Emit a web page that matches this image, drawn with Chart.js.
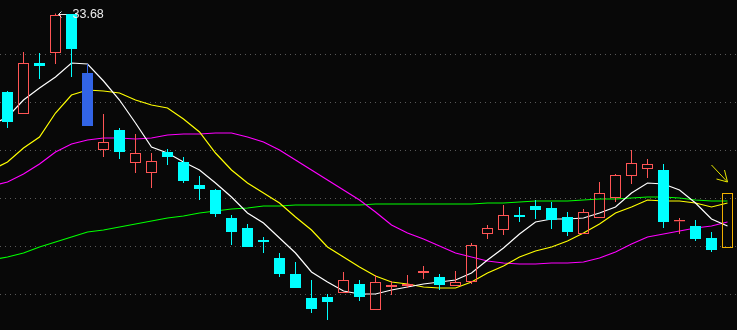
<!DOCTYPE html>
<html>
<head>
<meta charset="utf-8">
<script src="https://cdn.jsdelivr.net/npm/chart.js@4.4.0/dist/chart.umd.min.js"></script>
<style>
  html, body { margin: 0; padding: 0; background: #080808; overflow: hidden; }
  canvas { display: block; }
</style>
</head>
<body>
<canvas id="kChart" width="737" height="330"></canvas>
<script>
// daily candles (46 days, left to right)
const opens = [32.11, 31.67, 32.69, 32.89, 33.67, 32.49, 30.95, 31.35, 30.69, 30.49,
  30.91, 30.71, 30.25, 30.15, 29.59, 29.39, 29.15, 28.79, 28.47, 27.99,
  28.01, 28.09, 28.27, 27.75, 28.21, 28.23, 28.49, 28.41, 28.23, 28.31,
  29.27, 29.35, 29.65, 29.83, 29.79, 29.61, 29.27, 29.59, 29.99, 30.43,
  30.57, 30.55, 29.52, 29.43, 29.19, 28.99];
const highs = [32.13, 32.91, 32.89, 33.68, 33.67, 32.67, 31.67, 31.39, 31.27, 30.89,
  30.97, 30.81, 30.43, 30.17, 29.65, 29.47, 29.21, 28.89, 28.71, 28.35,
  28.07, 28.51, 28.35, 28.45, 28.33, 28.45, 28.63, 28.47, 28.53, 29.09,
  29.45, 29.85, 29.81, 29.95, 29.91, 29.71, 29.77, 30.31, 30.47, 30.95,
  30.77, 30.67, 29.59, 29.55, 29.31, 30.09];
const lows = [31.39, 31.67, 32.37, 32.67, 32.41, 31.43, 30.81, 30.77, 30.49, 30.19,
  30.65, 30.29, 29.95, 29.61, 29.05, 29.01, 28.89, 28.41, 28.19, 27.69,
  27.55, 28.09, 27.93, 27.75, 28.05, 28.19, 28.37, 28.15, 28.23, 28.27,
  29.17, 29.25, 29.51, 29.57, 29.37, 29.23, 29.27, 29.59, 29.91, 30.27,
  30.39, 29.39, 29.27, 29.13, 28.91, 28.99];
const closes = [31.51, 32.69, 32.63, 33.65, 32.97, 31.43, 31.11, 30.91, 30.89, 30.73,
  30.81, 30.33, 30.17, 29.67, 29.31, 29.01, 29.11, 28.47, 28.19, 27.77,
  27.91, 28.35, 28.01, 28.31, 28.25, 28.27, 28.53, 28.25, 28.31, 29.05,
  29.39, 29.65, 29.61, 29.75, 29.55, 29.31, 29.71, 30.09, 30.45, 30.69,
  30.67, 29.51, 29.55, 29.17, 28.95, 30.09];

// moving averages; first value belongs to the day before the first candle
const ma5 = [31.45, 31.61, 31.95, 32.19, 32.41, 32.69, 32.67, 32.33, 31.95, 31.49, 31.01,
  30.89, 30.71, 30.55, 30.29, 30.01, 29.69, 29.49, 29.19, 28.89, 28.51,
  28.31, 28.13, 28.07, 28.07, 28.15, 28.21, 28.27, 28.31, 28.35, 28.49,
  28.75, 28.99, 29.27, 29.51, 29.57, 29.57, 29.59, 29.69, 29.81, 30.09,
  30.29, 30.27, 30.15, 29.89, 29.57, 29.43];
const ma10 = [30.55, 30.71, 30.99, 31.21, 31.69, 32.05, 32.15, 32.13, 32.09, 31.95, 31.85,
  31.79, 31.57, 31.31, 30.89, 30.55, 30.29, 30.09, 29.89, 29.61, 29.35,
  29.01, 28.81, 28.61, 28.43, 28.31, 28.27, 28.21, 28.19, 28.19, 28.31,
  28.49, 28.63, 28.81, 28.93, 29.01, 29.13, 29.29, 29.47, 29.69, 29.81,
  29.95, 29.93, 29.93, 29.89, 29.81, 29.89];
const ma20 = [30.23, 30.31, 30.47, 30.67, 30.91, 31.07, 31.15, 31.19, 31.19, 31.17, 31.19,
  31.25, 31.27, 31.27, 31.29, 31.29, 31.21, 31.11, 30.95, 30.75, 30.55,
  30.35, 30.15, 29.95, 29.71, 29.45, 29.29, 29.17, 29.03, 28.89, 28.81,
  28.73, 28.69, 28.67, 28.67, 28.69, 28.69, 28.71, 28.79, 28.91, 29.07,
  29.21, 29.27, 29.33, 29.39, 29.43, 29.51];
const ma60 = [28.75, 28.81, 28.89, 29.01, 29.11, 29.21, 29.31, 29.35, 29.41, 29.47, 29.53,
  29.59, 29.63, 29.69, 29.73, 29.77, 29.79, 29.83, 29.83, 29.85, 29.85,
  29.85, 29.85, 29.85, 29.87, 29.87, 29.87, 29.87, 29.87, 29.87, 29.87,
  29.89, 29.89, 29.91, 29.93, 29.93, 29.93, 29.95, 29.97, 29.97, 29.99,
  30.01, 30.01, 29.99, 29.95, 29.93, 29.93];

// horizontal dotted grid levels
const gridLevels = [32.88, 31.92, 30.96, 30.00, 29.04, 28.08];

const UP = '#ff5555', DOWN = '#00ffff', MARK = '#3264e6', LAST = '#f0b000';
const markedDay = 5;
const lastDay = opens.length - 1;

function candleColor(i) {
  if (i === lastDay) return LAST;
  if (i === markedDay) return MARK;
  return closes[i] > opens[i] ? UP : DOWN;
}
function bodyFill(i) {
  if (i === lastDay || closes[i] > opens[i]) return 'rgba(0,0,0,0)';
  return candleColor(i);
}

const bodies = opens.map((o, i) => ({ x: i, y: [o, closes[i]] }));
const upperWicks = opens.map((o, i) => ({ x: i, y: [Math.max(o, closes[i]), highs[i]] }));
const lowerWicks = opens.map((o, i) => ({ x: i, y: [lows[i], Math.min(o, closes[i])] }));
const maPoints = arr => arr.map((v, i) => ({ x: i - 1, y: v }));

const gridAndNotes = {
  id: 'gridAndNotes',
  beforeDraw(chart) {
    const c = chart.ctx;
    c.save();
    c.fillStyle = '#080808';
    c.fillRect(0, 0, chart.width, chart.height);
    c.restore();
  },
  beforeDatasetsDraw(chart) {
    const c = chart.ctx, y = chart.scales.y, a = chart.chartArea;
    c.save();
    c.strokeStyle = '#5a5a5a';
    c.lineWidth = 1;
    c.setLineDash([1, 4]);
    gridLevels.forEach(v => {
      const py = Math.round(y.getPixelForValue(v)) + 0.5;
      c.beginPath();
      c.moveTo(a.left, py);
      c.lineTo(a.right, py);
      c.stroke();
    });
    c.restore();
  },
  afterDatasetsDraw(chart) {
    const c = chart.ctx, x = chart.scales.x, y = chart.scales.y;
    c.save();
    // highest price marker
    const top = Math.max(...highs);
    const ti = highs.indexOf(top);
    const hx = x.getPixelForValue(ti), hy = Math.round(y.getPixelForValue(top)) + 0.5;
    c.strokeStyle = '#e6e6e6';
    c.lineWidth = 1;
    c.beginPath();
    c.moveTo(hx + 3, hy); c.lineTo(hx + 11, hy);
    c.moveTo(hx + 3, hy); c.lineTo(hx + 6, hy - 3);
    c.moveTo(hx + 3, hy); c.lineTo(hx + 6, hy + 3);
    c.stroke();
    c.fillStyle = '#ececec';
    c.font = '12.5px "Liberation Sans", Arial, sans-serif';
    c.textBaseline = 'middle';
    c.fillText(top.toFixed(2), hx + 17, hy);
    // arrow pointing at the last day
    const lx = x.getPixelForValue(lastDay);
    const ly = y.getPixelForValue(Math.max(opens[lastDay], closes[lastDay]));
    c.strokeStyle = '#e6e600';
    c.beginPath();
    c.moveTo(lx - 16, ly - 28); c.lineTo(lx, ly - 11);
    c.moveTo(lx, ly - 11); c.lineTo(lx - 3, ly - 23);
    c.moveTo(lx, ly - 11); c.lineTo(lx - 11, ly - 14);
    c.stroke();
    c.restore();
  }
};

const barBase = {
  type: 'bar',
  grouped: false,
  borderSkipped: false,
  inflateAmount: 0
};
const lineBase = {
  type: 'line',
  borderWidth: 1.2,
  pointRadius: 0,
  tension: 0,
  fill: false,
  order: 3
};

new Chart(document.getElementById('kChart'), {
  data: {
    datasets: [
      {
        ...barBase,
        label: 'body',
        data: bodies,
        barThickness: 11,
        borderWidth: 1,
        borderColor: ctx => candleColor(ctx.dataIndex),
        backgroundColor: ctx => bodyFill(ctx.dataIndex),
        order: 0
      },
      {
        ...barBase,
        label: 'upper wick',
        data: upperWicks,
        barThickness: 1,
        borderWidth: 0,
        backgroundColor: ctx => candleColor(ctx.dataIndex),
        order: 1
      },
      {
        ...barBase,
        label: 'lower wick',
        data: lowerWicks,
        barThickness: 1,
        borderWidth: 0,
        backgroundColor: ctx => candleColor(ctx.dataIndex),
        order: 1
      },
      { ...lineBase, label: 'MA5', data: maPoints(ma5), borderColor: '#ffffff' },
      { ...lineBase, label: 'MA10', data: maPoints(ma10), borderColor: '#ffff00' },
      { ...lineBase, label: 'MA20', data: maPoints(ma20), borderColor: '#ff00ff' },
      { ...lineBase, label: 'MA60', data: maPoints(ma60), borderColor: '#00ff00' }
    ]
  },
  options: {
    responsive: false,
    animation: false,
    devicePixelRatio: 1,
    layout: { padding: 0 },
    plugins: { legend: { display: false }, tooltip: { enabled: false } },
    scales: {
      x: { type: 'linear', min: -0.46875, max: 45.59375, offset: false, display: false },
      y: { type: 'linear', min: 27.35, max: 33.95, display: false }
    }
  },
  plugins: [gridAndNotes]
});
</script>
</body>
</html>
